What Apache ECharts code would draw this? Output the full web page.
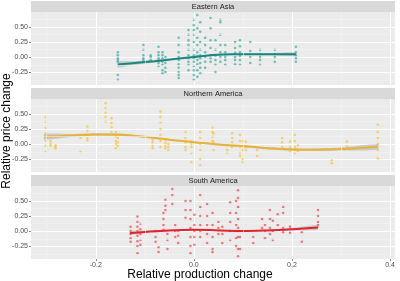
<!DOCTYPE html>
<html>
<head>
<meta charset="utf-8">
<script src="https://cdn.jsdelivr.net/npm/echarts@6/dist/echarts.min.js"></script>
<style>
  html, body { margin: 0; padding: 0; background: #fff; }
  #chart { width: 400px; height: 281px; }
</style>
</head>
<body>
<div id="chart"></div>
<script>
// facets
var regions = ['Eastern Asia', 'Northern America', 'South America'];
var pointColors = ['#1F9B92', '#F4BE1E', '#EC2B36'];
var lineColors = ['#17877F', '#E8B23A', '#E3222C'];

// tick values
var xMajor = [-0.2, 0, 0.2, 0.4];
var xMinor = [-0.3, -0.1, 0.1, 0.3];
var yMajor = [-0.25, 0, 0.25, 0.5];
var yMinor = [-0.375, -0.125, 0.125, 0.375, 0.625];

// Eastern Asia: columns of points (x) and their y values
var eaX = [-0.155, -0.103, -0.088, -0.072, -0.064, -0.058, -0.031, -0.011, 0.0, 0.007, 0.013,
    0.023, 0.034, 0.044, 0.054, 0.064, 0.084, 0.094, 0.115, 0.135, 0.165, 0.208];
var eaY = [
    [0.08, 0.03, -0.02, -0.05, -0.08, -0.30, -0.38],
    [0.2, 0.12, 0.03, -0.02, -0.05],
    [0.03, 0.0, -0.05],
    [0.17, 0.08, 0.03, -0.02, -0.05, -0.1, -0.15],
    [0.08, 0.03, -0.02, -0.08, -0.13, -0.22, -0.27],
    [0.0, -0.05, -0.1, -0.18, -0.25],
    [0.32, 0.2, 0.08, 0.0, -0.05, -0.12, -0.18, -0.25, -0.3, -0.35],
    [0.45, 0.37, 0.28, 0.2, 0.12, 0.03, -0.02, -0.08, -0.13, -0.22],
    [0.62, 0.53, 0.45, 0.37, 0.25, 0.12, 0.03, -0.02, -0.08, -0.15, -0.22, -0.3, -0.38],
    [0.7, 0.48, 0.32, 0.2, 0.08, 0.02, -0.05, -0.12, -0.22, -0.33],
    [0.58, 0.42, 0.25, 0.12, 0.03, -0.02, -0.1, -0.18, -0.27],
    [0.32, 0.2, 0.08, 0.0, -0.08, -0.18],
    [0.65, 0.48, 0.28, 0.15, 0.03, -0.02, -0.08],
    [0.28, 0.12, 0.02, -0.05, -0.13, -0.25],
    [0.62, 0.58, 0.37, 0.2, 0.08, 0.0, -0.08],
    [0.2, 0.08, 0.0, -0.05, -0.13],
    [0.25, 0.15, 0.07, 0.0, -0.05, -0.12],
    [0.28, 0.18, 0.08, 0.02, -0.05, -0.13],
    [0.25, 0.1, 0.0, -0.1],
    [0.12, 0.05, 0.0, -0.05, -0.13],
    [0.12, 0.05, 0.0, -0.08],
    [0.17, 0.08, 0.03, -0.02, -0.08]
];

// Northern America
var naX = [-0.302, -0.292, -0.282, -0.231, -0.217, -0.180, -0.168, -0.159, -0.155, -0.084, -0.068,
    -0.058, -0.052, -0.017, -0.005, 0.013, 0.038, 0.040, 0.068, 0.078, 0.094, 0.100, 0.106, 0.129,
    0.180, 0.196, 0.206, 0.212, 0.281, 0.312, 0.375];
var naY = [
    [0.45, 0.37, 0.27, 0.18, 0.12, 0.05, -0.03, -0.13],
    [0.12, 0.05, 0.0, -0.03],
    [-0.02, -0.05, -0.07],
    [0.1, -0.13],
    [0.29, 0.22, 0.15, 0.1, 0.06],
    [0.68, 0.6, 0.52, 0.45, 0.37],
    [0.43, 0.35, 0.28, 0.2],
    [0.2, 0.12, 0.05, 0.0, -0.07],
    [0.1, 0.03, -0.03],
    [0.07, 0.03, -0.03, -0.07],
    [0.54, 0.45, 0.36, 0.25, 0.15, 0.05, -0.05],
    [0.07, 0.02, -0.03, -0.07],
    [0.0, -0.05, -0.1],
    [0.2, 0.1, 0.03, -0.05, -0.1],
    [0.05, 0.0, -0.05, -0.15, -0.3],
    [0.2, 0.1, 0.0, -0.1, -0.25, -0.35],
    [0.27, 0.2, 0.12, 0.05],
    [0.18, 0.03, -0.1],
    [-0.02, -0.1, -0.15],
    [0.18, 0.1, 0.03, -0.05],
    [0.15, 0.05, -0.05, -0.15, -0.2],
    [0.05, -0.1, -0.25, -0.3],
    [0.04, -0.05, -0.1],
    [-0.1, -0.2],
    [0.1, 0.03, -0.05],
    [0.04, -0.05, -0.13],
    [0.15, 0.05, -0.05, -0.15],
    [-0.02, -0.12],
    [-0.27, -0.32],
    [0.04, -0.04],
    [0.32, 0.2, 0.1, 0.0, -0.1, -0.24]
];

// South America
var saX = [-0.129, -0.115, -0.109, -0.078, -0.072, -0.062, -0.058, -0.054, -0.044, -0.038, -0.032,
    -0.017, -0.007, 0.001, 0.013, 0.027, 0.038, 0.050, 0.058, 0.074, 0.086, 0.090, 0.094, 0.121,
    0.139, 0.145, 0.155, 0.161, 0.171, 0.182, 0.196, 0.220, 0.253];
var saY = [
    [0.07, 0.0, -0.05, -0.12, -0.18],
    [0.24, 0.15, 0.07, 0.0, -0.08, -0.17, -0.25, -0.37],
    [0.12, 0.03, -0.05, -0.15, -0.23],
    [0.0, -0.1, -0.18],
    [-0.27, -0.35],
    [0.3, 0.2, 0.1, 0.02],
    [0.52, 0.42, 0.35],
    [-0.05, -0.15, -0.3],
    [0.7, 0.6, 0.45],
    [0.1, 0.0, -0.1],
    [0.0, -0.08, -0.2],
    [0.5, 0.35, 0.22],
    [0.5, 0.35, 0.2, 0.05, -0.1, -0.25, -0.37],
    [0.27, 0.1, 0.0, -0.1, -0.23],
    [0.6, 0.4, 0.25, 0.1, 0.0, -0.1],
    [0.45, 0.25, 0.1, -0.05, -0.2],
    [0.3, 0.1, -0.1, -0.3, -0.35],
    [0.15, 0.05, -0.05],
    [0.07, -0.05, -0.2],
    [0.48, 0.3, 0.15, 0.0, -0.15],
    [0.5, 0.3, 0.1, 0.0, -0.12, -0.25],
    [0.68, 0.55, 0.4, 0.2, 0.05, -0.1, -0.3, -0.42],
    [-0.1, -0.3],
    [-0.1, -0.2],
    [0.2, 0.05],
    [0.1, 0.0, -0.12],
    [0.35, 0.2, 0.05, -0.05],
    [0.17, 0.0, -0.15],
    [0.28, 0.1],
    [0.4, 0.3, 0.05, -0.02],
    [0.07, -0.03],
    [-0.02, -0.18],
    [0.35, 0.25, 0.15, 0.1]
];

// smoothed fits and half-width of the band
var eaFitX = [-0.155, -0.12, -0.08, -0.04, 0, 0.04, 0.08, 0.12, 0.16, 0.208];
var eaFitY = [-0.125, -0.1, -0.07, -0.035, 0.0, 0.035, 0.045, 0.045, 0.045, 0.045];
var eaFitSe = [0.05, 0.03, 0.02, 0.012, 0.01, 0.01, 0.01, 0.012, 0.018, 0.03];

var naFitX = [-0.305, -0.25, -0.2, -0.15, -0.1, -0.05, 0, 0.05, 0.1, 0.15, 0.2, 0.25, 0.3, 0.375];
var naFitY = [0.12, 0.14, 0.16, 0.155, 0.12, 0.07, 0.03, -0.01, -0.035, -0.07, -0.09, -0.095, -0.085, -0.045];
var naFitSe = [0.045, 0.025, 0.02, 0.02, 0.015, 0.012, 0.012, 0.012, 0.015, 0.02, 0.02, 0.022, 0.025, 0.045];

var saFitX = [-0.13, -0.1, -0.05, 0, 0.05, 0.1, 0.15, 0.2, 0.253];
var saFitY = [-0.035, -0.015, 0.01, 0.02, 0.01, 0.0, 0.01, 0.03, 0.06];
var saFitSe = [0.03, 0.02, 0.012, 0.01, 0.01, 0.01, 0.012, 0.02, 0.04];

var colsX = [eaX, naX, saX];
var colsY = [eaY, naY, saY];
var fitX = [eaFitX, naFitX, saFitX];
var fitY = [eaFitY, naFitY, saFitY];
var fitSe = [eaFitSe, naFitSe, saFitSe];

var panelTop = [12, 99, 186];
var panelH = 73;
var panelLeft = 31;
var panelW = 364;
var FONT = '"Liberation Sans", Arial, sans-serif';

function points(xs, ys) {
    var out = [];
    for (var i = 0; i < xs.length; i++) {
        for (var j = 0; j < ys[i].length; j++) {
            out.push([xs[i], ys[i][j]]);
        }
    }
    return out;
}

// confidence band drawn as one polygon through the axes
function bandRenderer(s) {
    return function (params, api) {
        if (params.dataIndex !== 0) return;
        var pts = [];
        for (var i = 0; i < fitX[s].length; i++) {
            pts.push(api.coord([fitX[s][i], fitY[s][i] + fitSe[s][i]]));
        }
        for (var j = fitX[s].length - 1; j >= 0; j--) {
            pts.push(api.coord([fitX[s][j], fitY[s][j] - fitSe[s][j]]));
        }
        return {
            type: 'polygon',
            shape: { points: pts, smooth: 0.25 },
            style: { fill: '#999999', opacity: 0.4 }
        };
    };
}

var grids = [], xAxes = [], yAxes = [], series = [], graphics = [];

for (var k = 0; k < 3; k++) {
    grids.push({
        left: panelLeft, width: panelW, top: panelTop[k], height: panelH,
        show: true, backgroundColor: '#EBEBEB', borderWidth: 0
    });
    // strip
    graphics.push({
        type: 'rect', left: panelLeft, top: panelTop[k] - 11,
        shape: { width: panelW, height: 11 },
        style: { fill: '#D9D9D9' }
    });
    graphics.push({
        type: 'text', x: panelLeft + panelW / 2, y: panelTop[k] - 5.5,
        style: {
            text: regions[k], fill: '#1A1A1A', font: '7.5px ' + FONT,
            align: 'center', verticalAlign: 'middle'
        }
    });

    var bottom = k === 2;
    xAxes.push({
        type: 'value', gridIndex: k, min: -0.332, max: 0.41, position: 'bottom',
        axisLine: { show: false, onZero: false },
        axisTick: { show: bottom, customValues: xMajor, length: 2, lineStyle: { color: '#333333', width: 0.6 } },
        axisLabel: {
            show: bottom, customValues: xMajor, fontSize: 7, color: '#4D4D4D', margin: 3,
            fontFamily: FONT,
            formatter: function (v) { return v.toFixed(1); }
        },
        splitLine: { show: true, lineStyle: { color: '#FFFFFF', width: 1 } }
    });
    yAxes.push({
        type: 'value', gridIndex: k, min: -0.467, max: 0.75, position: 'left',
        axisLine: { show: false, onZero: false },
        axisTick: { show: true, customValues: yMajor, length: 2, lineStyle: { color: '#333333', width: 0.6 } },
        axisLabel: {
            customValues: yMajor, fontSize: 7, color: '#4D4D4D', margin: 3,
            fontFamily: FONT,
            formatter: function (v) { return v.toFixed(2); }
        },
        splitLine: { show: true, lineStyle: { color: '#FFFFFF', width: 1 } }
    });

    // minor grid lines
    var minorLines = [];
    xMinor.forEach(function (v) { minorLines.push({ xAxis: v }); });
    yMinor.forEach(function (v) { minorLines.push({ yAxis: v }); });
    series.push({
        type: 'line', xAxisIndex: k, yAxisIndex: k, data: [], z: 1, silent: true,
        markLine: {
            silent: true, symbol: 'none', label: { show: false }, animation: false,
            lineStyle: { color: '#F3F3F3', width: 0.6, type: 'solid' },
            data: minorLines
        }
    });
}

// axis titles
graphics.push({
    type: 'text', x: 200, y: 275,
    style: { text: 'Relative production change', fill: '#000000', font: '12px ' + FONT, align: 'center', verticalAlign: 'middle' }
});
graphics.push({
    type: 'text', x: 7, y: 131, rotation: Math.PI / 2,
    style: { text: 'Relative price change', fill: '#000000', font: '12px ' + FONT, align: 'center', verticalAlign: 'middle' }
});

for (var s = 0; s < 3; s++) {
    series.push({
        type: 'scatter', xAxisIndex: s, yAxisIndex: s,
        data: points(colsX[s], colsY[s]),
        symbol: 'circle', symbolSize: 2.6,
        itemStyle: { color: pointColors[s], opacity: 0.6 },
        silent: true, z: 2
    });
    var fit = [];
    for (var i = 0; i < fitX[s].length; i++) {
        fit.push([fitX[s][i], fitY[s][i]]);
    }
    series.push({
        type: 'custom', xAxisIndex: s, yAxisIndex: s, data: fit,
        encode: { x: 0, y: 1 }, renderItem: bandRenderer(s), clip: true, silent: true, z: 3
    });
    series.push({
        type: 'line', xAxisIndex: s, yAxisIndex: s, data: fit,
        smooth: 0.4, symbol: 'none', lineStyle: { color: lineColors[s], width: 2 },
        silent: true, z: 4
    });
}

var chart = echarts.init(document.getElementById('chart'), null, { renderer: 'canvas' });
chart.setOption({
    animation: false,
    grid: grids,
    xAxis: xAxes,
    yAxis: yAxes,
    series: series,
    graphic: graphics
});
</script>
</body>
</html>
